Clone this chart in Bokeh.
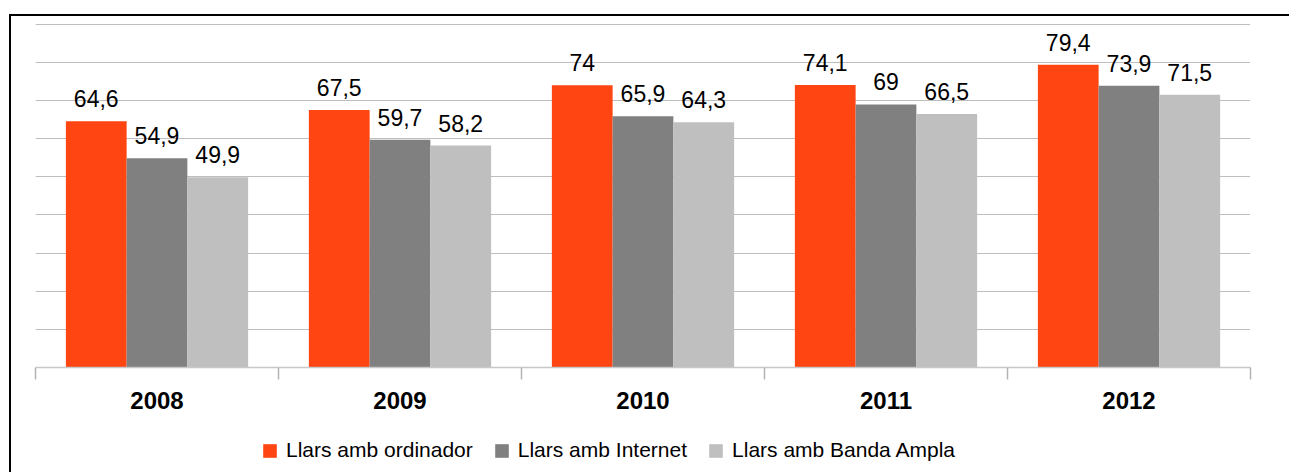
from bokeh.plotting import figure
from bokeh.layouts import column
from bokeh.models import (ColumnDataSource, Range1d, SingleIntervalTicker,
                          LabelSet, Legend, LegendItem, FixedTicker, LinearAxis)
from bokeh.core.properties import value
from bokeh.embed import file_html
from bokeh.resources import INLINE

years = ["2008", "2009", "2010", "2011", "2012"]
ordinador = [64.6, 67.5, 74.0, 74.1, 79.4]
internet = [54.9, 59.7, 65.9, 69.0, 73.9]
banda_ampla = [49.9, 58.2, 64.3, 66.5, 71.5]
series_names = ["Llars amb ordinador", "Llars amb Internet", "Llars amb Banda Ampla"]
colors = ["#FF4511", "#808080", "#BFBFBF"]

def fmt(v):
    return f"{v:g}".replace(".", ",")

FONT = "Liberation Sans"
n = len(years)
centres = [i + 0.5 for i in range(n)]

p = figure(width=1278, height=411, x_range=Range1d(0, n),
           y_range=Range1d(0, 91), output_backend="svg", toolbar_location=None,
           x_axis_location=None, y_axis_location=None,
           min_border_left=24, min_border_right=39, min_border_top=4, min_border_bottom=60)
p.outline_line_color = None
p.background_fill_color = "white"
p.border_fill_color = "white"

renderers = []
offsets = [-0.25, 0.0, 0.25]
for vals, name, col, off in zip([ordinador, internet, banda_ampla], series_names, colors, offsets):
    src = ColumnDataSource(dict(x=[c + off for c in centres], top=vals, lab=[fmt(v) for v in vals]))
    r = p.vbar(x="x", top="top", width=0.25, source=src, fill_color=col, line_color=None)
    renderers.append(r)
    ls = LabelSet(x="x", y="top", text="lab", source=src,
                  text_align="center", text_baseline="alphabetic", y_offset=14,
                  text_font=value(FONT), text_font_size="23px", text_color="black")
    p.add_layout(ls)

p.ygrid.ticker = SingleIntervalTicker(interval=10)
p.ygrid.grid_line_color = "#BEBEBE"
p.ygrid.grid_line_width = 1
p.xgrid.visible = False

cat_axis = LinearAxis(ticker=FixedTicker(ticks=centres, minor_ticks=list(range(n + 1))),
                      major_label_overrides={c: y for c, y in zip(centres, years)},
                      axis_line_color="#C8C8C8", axis_line_width=1.5,
                      major_tick_line_color=None, major_tick_out=0, major_tick_in=0,
                      minor_tick_line_color="#B4B4B4", minor_tick_line_width=1.5,
                      minor_tick_out=12, minor_tick_in=0,
                      major_label_standoff=12,
                      major_label_text_font=FONT, major_label_text_font_size="24px",
                      major_label_text_font_style="bold", major_label_text_color="black")
p.add_layout(cat_axis, "below")

# legend strip below the chart (proxy bars sit outside the strip's visible range)
lg = figure(width=1278, height=45, x_range=Range1d(0, 1), y_range=Range1d(0, 1),
            output_backend="svg", toolbar_location=None,
            x_axis_location=None, y_axis_location=None, min_border=0)
lg.outline_line_color = None
lg.grid.visible = False
lg.background_fill_color = "white"
lg.border_fill_color = "white"
proxies = []
for col in colors:
    proxy_src = ColumnDataSource(dict(x=[-5], top=[0]))
    proxies.append(lg.vbar(x="x", top="top", width=0.1, source=proxy_src,
                           fill_color=col, line_color=None))
legend = Legend(items=[LegendItem(label=nm, renderers=[r]) for nm, r in zip(series_names, proxies)],
                orientation="horizontal", location=(226, 10),
                label_text_font=FONT, label_text_font_size="21px", label_text_color="black",
                glyph_width=17, glyph_height=17, label_standoff=8, spacing=20,
                border_line_color=None, background_fill_alpha=0, padding=2, margin=0)
lg.add_layout(legend, "center")

layout = column(p, lg, spacing=0,
                styles={"margin-left": "9px", "margin-top": "14px",
                        "border-left": "2px solid black", "border-top": "2px solid black"})

open("out.html", "w").write(file_html(layout, INLINE))
